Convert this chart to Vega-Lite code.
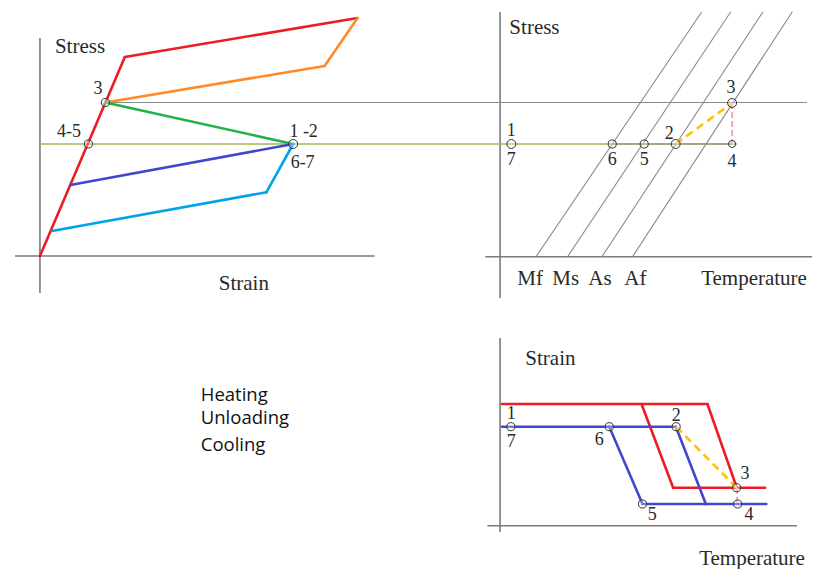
{
  "$schema": "https://vega.github.io/schema/vega-lite/v6.json",
  "width": 813,
  "height": 569,
  "padding": 0,
  "autosize": {"type": "fit", "contains": "padding"},
  "background": "#ffffff",
  "config": {"view": {"stroke": null}},
  "datasets": {
    "segments": [
      {"s": "axis", "x": 40, "y": 38, "x2": 40, "y2": 293},
      {"s": "axis", "x": 15, "y": 256, "x2": 375, "y2": 256},
      {"s": "axis", "x": 500.7, "y": 12, "x2": 500.7, "y2": 298},
      {"s": "axis", "x": 486, "y": 256.7, "x2": 813, "y2": 256.7},
      {"s": "axis", "x": 500.7, "y": 338, "x2": 500.7, "y2": 532},
      {"s": "axis", "x": 488, "y": 525.7, "x2": 798, "y2": 525.7},

      {"s": "stress level", "x": 40, "y": 144, "x2": 738, "y2": 144},
      {"s": "guide", "x": 105.5, "y": 102.5, "x2": 808, "y2": 102.5},
      {"s": "guide", "x": 613, "y": 144, "x2": 733, "y2": 144},
      {"s": "guide", "x": 536.7, "y": 256.7, "x2": 702.7, "y2": 11.7},
      {"s": "guide", "x": 568.3, "y": 256.7, "x2": 731.7, "y2": 11.7},
      {"s": "guide", "x": 602.7, "y": 256.7, "x2": 764, "y2": 11.7},
      {"s": "guide", "x": 633.3, "y": 256.7, "x2": 793.3, "y2": 11.7},

      {"s": "loading", "x": 40, "y": 256, "x2": 125, "y2": 57},
      {"s": "loading", "x": 125, "y": 57, "x2": 358, "y2": 18},
      {"s": "reverse", "x": 358, "y": 18, "x2": 325, "y2": 66},
      {"s": "reverse", "x": 325, "y": 66, "x2": 105.5, "y2": 102.5},
      {"s": "recovery", "x": 105.5, "y": 102.5, "x2": 293.5, "y2": 144},
      {"s": "inner", "x": 293.5, "y": 144, "x2": 70.5, "y2": 185},
      {"s": "lower", "x": 293.5, "y": 144, "x2": 266.7, "y2": 192.3},
      {"s": "lower", "x": 266.7, "y": 192.3, "x2": 52, "y2": 231},

      {"s": "strain hot", "x": 502.7, "y": 404, "x2": 708.3, "y2": 404},
      {"s": "strain hot", "x": 708.3, "y": 404, "x2": 737.7, "y2": 487.7},
      {"s": "strain hot", "x": 642.3, "y": 404, "x2": 674, "y2": 487.7},
      {"s": "strain hot", "x": 674, "y": 487.7, "x2": 766, "y2": 487.7},
      {"s": "strain cold", "x": 502.7, "y": 426.7, "x2": 676.7, "y2": 426.7},
      {"s": "strain cold", "x": 610, "y": 426.7, "x2": 643.3, "y2": 504},
      {"s": "strain cold", "x": 676.7, "y": 426.7, "x2": 706.7, "y2": 504},
      {"s": "strain cold", "x": 643.3, "y": 504, "x2": 767.3, "y2": 504},

      {"s": "heating 2-3", "x": 676.5, "y": 144, "x2": 733, "y2": 103},
      {"s": "heating 2-3", "x": 677, "y": 426.7, "x2": 737.5, "y2": 487.7},
      {"s": "unloading 3-4", "x": 733, "y": 103, "x2": 733, "y2": 144},
      {"s": "unloading 3-4", "x": 738, "y": 487.7, "x2": 738, "y2": 504}
    ],
    "states": [
      {"role": "state", "x": 105.5, "y": 102.5},
      {"role": "state", "x": 88.5, "y": 144},
      {"role": "start", "x": 293.5, "y": 144},
      {"role": "start", "x": 512, "y": 144},
      {"role": "state", "x": 613, "y": 144},
      {"role": "state", "x": 645, "y": 144},
      {"role": "start", "x": 676.5, "y": 144},
      {"role": "start", "x": 733, "y": 103},
      {"role": "minor", "x": 733, "y": 144},
      {"role": "state", "x": 511.5, "y": 426.7},
      {"role": "state", "x": 610, "y": 426.7},
      {"role": "state", "x": 677, "y": 426.7},
      {"role": "state", "x": 737.5, "y": 487.7},
      {"role": "state", "x": 643.3, "y": 504},
      {"role": "state", "x": 738.5, "y": 504}
    ],
    "labels": [
      {"kind": "title", "x": 55, "y": 53, "text": "Stress"},
      {"kind": "title", "x": 219, "y": 290, "text": "Strain"},
      {"kind": "title", "x": 510, "y": 34, "text": "Stress"},
      {"kind": "title", "x": 518, "y": 285, "text": "Mf"},
      {"kind": "title", "x": 553, "y": 285, "text": "Ms"},
      {"kind": "title", "x": 589, "y": 285, "text": "As"},
      {"kind": "title", "x": 625, "y": 285, "text": "Af"},
      {"kind": "title", "x": 702, "y": 285, "text": "Temperature"},
      {"kind": "title", "x": 526, "y": 365, "text": "Strain"},
      {"kind": "title", "x": 700, "y": 565, "text": "Temperature"},

      {"kind": "num", "x": 98, "y": 94, "text": "3"},
      {"kind": "num", "x": 69, "y": 137, "text": "4-5"},
      {"kind": "num", "x": 304, "y": 137, "text": "1 -2"},
      {"kind": "num", "x": 303, "y": 168, "text": "6-7"},
      {"kind": "num", "x": 512, "y": 136, "text": "1"},
      {"kind": "num", "x": 512, "y": 165, "text": "7"},
      {"kind": "num", "x": 613, "y": 165, "text": "6"},
      {"kind": "num", "x": 645, "y": 165, "text": "5"},
      {"kind": "num", "x": 670, "y": 139, "text": "2"},
      {"kind": "num", "x": 732, "y": 93, "text": "3"},
      {"kind": "num", "x": 733, "y": 167, "text": "4"},
      {"kind": "num", "x": 512, "y": 419, "text": "1"},
      {"kind": "num", "x": 512, "y": 447, "text": "7"},
      {"kind": "num", "x": 600, "y": 445, "text": "6"},
      {"kind": "num", "x": 677, "y": 421, "text": "2"},
      {"kind": "num", "x": 746, "y": 479, "text": "3"},
      {"kind": "num", "x": 653, "y": 520, "text": "5"},
      {"kind": "num", "x": 750, "y": 520, "text": "4"},

      {"kind": "note", "x": 201, "y": 401, "text": "Heating"},
      {"kind": "note", "x": 201, "y": 424, "text": "Unloading"},
      {"kind": "note", "x": 201, "y": 451, "text": "Cooling"}
    ]
  },
  "encoding": {
    "x": {"field": "x", "type": "quantitative", "axis": null,
          "scale": {"domain": [0, 813], "zero": false, "nice": false}},
    "y": {"field": "y", "type": "quantitative", "axis": null,
          "scale": {"domain": [0, 569], "zero": false, "nice": false, "reverse": true}}
  },
  "layer": [
    {
      "data": {"name": "segments"},
      "transform": [{"filter": "datum.s === 'axis'"}],
      "mark": {"type": "rule", "color": "#7a7a7a", "strokeWidth": 1.6},
      "encoding": {"x2": {"field": "x2"}, "y2": {"field": "y2"}}
    },
    {
      "data": {"name": "segments"},
      "transform": [{"filter": "datum.s === 'stress level'"}],
      "mark": {"type": "rule", "color": "#9bbb59", "strokeWidth": 1.3},
      "encoding": {"x2": {"field": "x2"}, "y2": {"field": "y2"}}
    },
    {
      "data": {"name": "segments"},
      "transform": [{"filter": "datum.s === 'guide'"}],
      "mark": {"type": "rule", "color": "#8a8a8a", "strokeWidth": 1.1},
      "encoding": {"x2": {"field": "x2"}, "y2": {"field": "y2"}}
    },
    {
      "data": {"name": "segments"},
      "transform": [{"filter": "indexof(['loading','reverse','recovery','inner','lower','strain hot','strain cold'], datum.s) >= 0"}],
      "mark": {"type": "rule", "strokeWidth": 2.6, "strokeCap": "round"},
      "encoding": {
        "x2": {"field": "x2"},
        "y2": {"field": "y2"},
        "color": {
          "field": "s", "type": "nominal", "legend": null,
          "scale": {
            "domain": ["loading", "reverse", "recovery", "inner", "lower", "strain hot", "strain cold"],
            "range": ["#ed1c24", "#ff8a27", "#22b14c", "#3f48cc", "#00a2e8", "#ed1c24", "#4048d0"]
          }
        }
      }
    },
    {
      "data": {"name": "segments"},
      "transform": [{"filter": "datum.s === 'heating 2-3'"}],
      "mark": {"type": "rule", "color": "#ffc20e", "strokeWidth": 2.7, "strokeDash": [8, 5]},
      "encoding": {"x2": {"field": "x2"}, "y2": {"field": "y2"}}
    },
    {
      "data": {"name": "segments"},
      "transform": [{"filter": "datum.s === 'unloading 3-4'"}],
      "mark": {"type": "rule", "color": "#ffa8c4", "strokeWidth": 2.2, "strokeDash": [6, 3]},
      "encoding": {"x2": {"field": "x2"}, "y2": {"field": "y2"}}
    },
    {
      "data": {"name": "states"},
      "mark": {"type": "point", "shape": "circle", "filled": false, "fill": "#ffffff", "fillOpacity": 0.3,
               "stroke": "#333333", "strokeWidth": 1},
      "encoding": {
        "size": {
          "field": "role", "type": "nominal", "legend": null,
          "scale": {"domain": ["minor", "state", "start"], "range": [50, 80, 120]}
        }
      }
    },
    {
      "data": {"name": "labels"},
      "transform": [{"filter": "datum.kind === 'title'"}],
      "mark": {"type": "text", "font": "Liberation Serif", "fontSize": 21, "align": "left",
               "baseline": "alphabetic", "color": "#2a2a2a"},
      "encoding": {"text": {"field": "text"}}
    },
    {
      "data": {"name": "labels"},
      "transform": [{"filter": "datum.kind === 'num'"}],
      "mark": {"type": "text", "font": "Liberation Serif", "fontSize": 18, "align": "center",
               "baseline": "alphabetic", "color": "#2a2a2a"},
      "encoding": {"text": {"field": "text"}}
    },
    {
      "data": {"name": "labels"},
      "transform": [{"filter": "datum.kind === 'note'"}],
      "mark": {"type": "text", "font": "Open Sans", "fontSize": 18.5, "align": "left",
               "baseline": "alphabetic", "color": "#111111"},
      "encoding": {"text": {"field": "text"}}
    }
  ]
}
